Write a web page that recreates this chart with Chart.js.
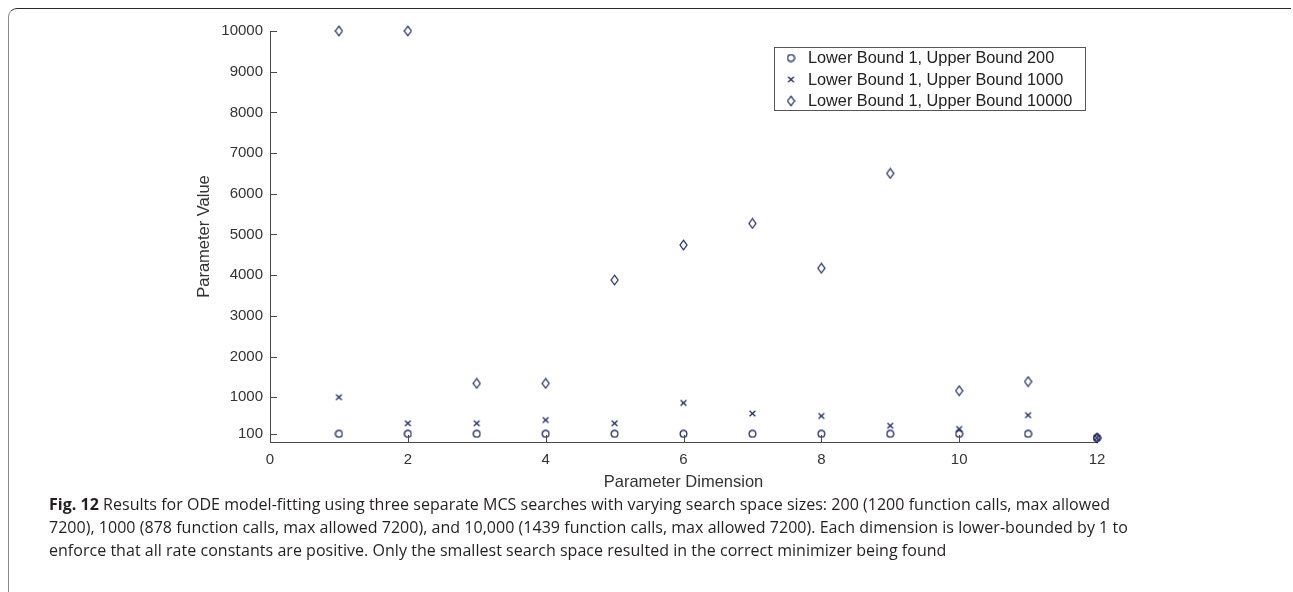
<!DOCTYPE html>
<html>
<head>
<meta charset="utf-8">
<script src="https://cdn.jsdelivr.net/npm/chart.js@4.4.1/dist/chart.umd.min.js"></script>
<style>
  html, body { margin: 0; padding: 0; background: #fff; }
  body { width: 1293px; height: 592px; position: relative; overflow: hidden; }
  #frame {
    position: absolute; left: 8px; top: 8px; width: 1283px; height: 600px;
    border-top: 1.5px solid #2a2a2a; border-left: 1.5px solid #8a8a8a;
    border-top-left-radius: 9px; box-sizing: border-box;
  }
  #chart { position: absolute; left: 0; top: 0; }
  #cap {
    position: absolute; left: 49px; top: 493px; color: #231f20;
    font-family: "Open Sans", "Noto Sans", sans-serif; font-size: 16px; line-height: 23px;
    white-space: nowrap; letter-spacing: 0.03px;
  }
</style>
</head>
<body>
<div id="frame"></div>
<canvas id="chart" width="1293" height="494"></canvas>
<div id="cap">
<b>Fig. 12</b> Results for ODE model-fitting using three separate MCS searches with varying search space sizes: 200 (1200 function calls, max allowed<br>
7200), 1000 (878 function calls, max allowed 7200), and 10,000 (1439 function calls, max allowed 7200). Each dimension is lower-bounded by 1 to<br>
enforce that all rate constants are positive. Only the smallest search space resulted in the correct minimizer being found
</div>
<script>
// values
const dims = [1, 2, 3, 4, 5, 6, 7, 8, 9, 10, 11, 12];
const ub200 = [100, 100, 100, 100, 100, 100, 100, 100, 100, 100, 100, 1];
const ub1000 = [1000, 360, 360, 440, 360, 860, 600, 540, 300, 220, 560, 1];
const ub10000 = [10000, 10000, 1340, 1340, 3880, 4740, 5270, 4170, 6500, 1160, 1385, 1];
const seriesNames = ['Lower Bound 1, Upper Bound 200', 'Lower Bound 1, Upper Bound 1000', 'Lower Bound 1, Upper Bound 10000'];
const yTicks = [100, 1000, 2000, 3000, 4000, 5000, 6000, 7000, 8000, 9000, 10000];

const navy = '#1a2762';
const axisGray = '#4a4a4a';
const font = "'Liberation Sans', Arial, Helvetica, sans-serif";

// marker images (matlab style o, x, diamond)
function marker(kind) {
  const c = document.createElement('canvas');
  const w = 9, h = kind === 'd' ? 12 : 9;
  c.width = w; c.height = h;
  const g = c.getContext('2d');
  g.strokeStyle = navy; g.lineWidth = 1.2;
  g.beginPath();
  if (kind === 'o') {
    g.arc(4.5, 4.5, 3.4, 0, Math.PI * 2);
  } else if (kind === 'x') {
    g.moveTo(1.6, 1.8); g.lineTo(7.4, 7.2);
    g.moveTo(7.4, 1.8); g.lineTo(1.6, 7.2);
  } else {
    g.moveTo(4.5, 1.2); g.lineTo(8, 6); g.lineTo(4.5, 10.8); g.lineTo(1, 6); g.closePath();
  }
  g.stroke();
  return c;
}
const markers = [marker('o'), marker('x'), marker('d')];

function pts(ys) { return dims.map((d, i) => ({ x: d, y: ys[i] })); }

// inward tick marks like matlab
const inwardTicks = {
  id: 'inwardTicks',
  afterDatasetsDraw(chart) {
    const { ctx, chartArea, scales } = chart;
    ctx.save();
    ctx.strokeStyle = axisGray; ctx.lineWidth = 1;
    ctx.beginPath();
    scales.x.ticks.forEach((t, i) => {
      const px = Math.round(scales.x.getPixelForTick(i)) + 0.5;
      ctx.moveTo(px, chartArea.bottom); ctx.lineTo(px, chartArea.bottom - 7);
    });
    scales.y.ticks.forEach((t, i) => {
      const py = Math.round(scales.y.getPixelForTick(i)) + 0.5;
      ctx.moveTo(chartArea.left, py); ctx.lineTo(chartArea.left + 7, py);
    });
    ctx.stroke();
    ctx.restore();
  }
};

// boxed legend in the upper right of the axes
const boxLegend = {
  id: 'boxLegend',
  afterDraw(chart) {
    const { ctx, chartArea } = chart;
    const right = chartArea.right - 12, top = chartArea.top + 16;
    const left = right - 311, bottom = top + 63;
    ctx.save();
    ctx.fillStyle = '#fff';
    ctx.fillRect(left, top, right - left, bottom - top);
    ctx.strokeStyle = '#555'; ctx.lineWidth = 1;
    ctx.strokeRect(Math.round(left) + 0.5, Math.round(top) + 0.5, right - left, bottom - top);
    ctx.font = '16.3px ' + font;
    ctx.fillStyle = '#222';
    ctx.textBaseline = 'middle';
    seriesNames.forEach((name, i) => {
      const y = top + 11 + i * 21.5;
      const m = markers[i];
      ctx.drawImage(m, left + 17 - m.width / 2, y - m.height / 2);
      ctx.fillText(name, left + 34, y + 1);
    });
    ctx.restore();
  }
};

new Chart(document.getElementById('chart'), {
  type: 'scatter',
  data: {
    datasets: [ub200, ub1000, ub10000].map((ys, i) => ({
      label: seriesNames[i],
      data: pts(ys),
      pointStyle: markers[i],
      pointRadius: 4,
      borderColor: navy,
      backgroundColor: navy,
      clip: false
    }))
  },
  options: {
    responsive: false,
    devicePixelRatio: 1,
    animation: false,
    events: [],
    layout: { padding: { left: 191, top: 31, right: 196, bottom: 0 } },
    plugins: { legend: { display: false }, tooltip: { enabled: false } },
    scales: {
      x: {
        type: 'linear', min: 0, max: 12,
        afterFit(scale) { scale.height = 52; },
        ticks: { stepSize: 2, padding: 9, color: '#333', font: { family: font, size: 15 } },
        grid: { drawOnChartArea: false, drawTicks: false },
        border: { color: axisGray, width: 1 },
        title: { display: true, text: 'Parameter Dimension', color: '#333', padding: { top: 2, bottom: 2 }, font: { family: font, size: 16.5 } }
      },
      y: {
        type: 'linear', min: -100, max: 10000,
        afterBuildTicks(scale) { scale.ticks = yTicks.map(v => ({ value: v })); },
        afterFit(scale) { scale.width = 79; },
        ticks: { padding: 7, color: '#333', font: { family: font, size: 15 }, callback: v => String(v) },
        grid: { drawOnChartArea: false, drawTicks: false },
        border: { color: axisGray, width: 1 },
        title: { display: true, text: 'Parameter Value', color: '#333', font: { family: font, size: 16.5 } }
      }
    }
  },
  plugins: [inwardTicks, boxLegend]
});
</script>
</body>
</html>
